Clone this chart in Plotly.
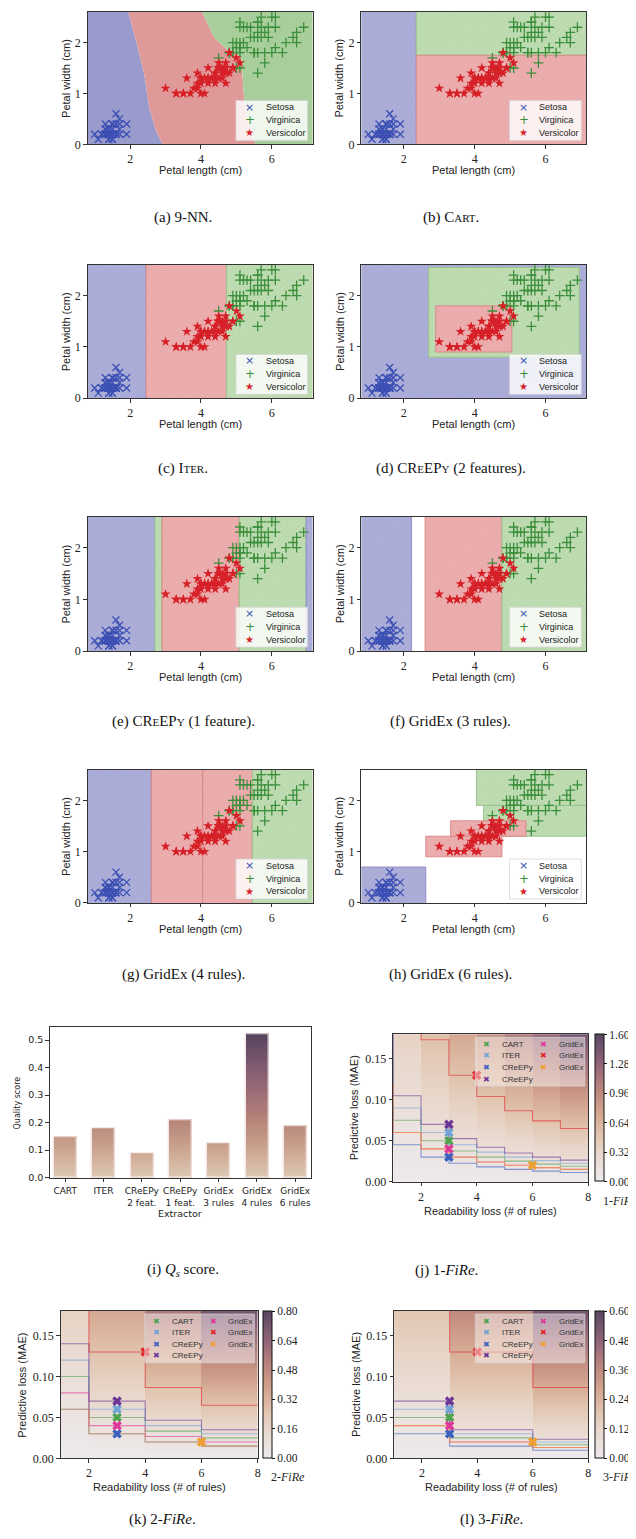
import numpy as np
import plotly.graph_objects as go

W, H = 636, 1539

# ---------------- Iris data (petal length / width, cm) ----------------
setosa_len = [1.4,1.4,1.3,1.5,1.4,1.7,1.4,1.5,1.4,1.5,1.5,1.6,1.4,1.1,1.2,1.5,1.3,1.4,1.7,1.5,
              1.7,1.5,1.0,1.7,1.9,1.6,1.6,1.5,1.4,1.6,1.6,1.5,1.5,1.4,1.5,1.2,1.3,1.4,1.3,1.5,
              1.3,1.3,1.3,1.6,1.9,1.4,1.6,1.4,1.5,1.4]
setosa_wid = [0.2,0.2,0.2,0.2,0.2,0.4,0.3,0.2,0.2,0.1,0.2,0.2,0.1,0.1,0.2,0.4,0.4,0.3,0.3,0.3,
              0.2,0.4,0.2,0.5,0.2,0.2,0.4,0.2,0.2,0.2,0.2,0.4,0.1,0.2,0.2,0.2,0.2,0.1,0.2,0.2,
              0.3,0.3,0.2,0.6,0.4,0.3,0.2,0.2,0.2,0.2]
versicolor_len = [4.7,4.5,4.9,4.0,4.6,4.5,4.7,3.3,4.6,3.9,3.5,4.2,4.0,4.7,3.6,4.4,4.5,4.1,4.5,3.9,
                  4.8,4.0,4.9,4.7,4.3,4.4,4.8,5.0,4.5,3.5,3.8,3.7,3.9,5.1,4.5,4.5,4.7,4.4,4.1,4.0,
                  4.4,4.6,4.0,3.3,4.2,4.2,4.2,4.3,3.0,4.1]
versicolor_wid = [1.4,1.5,1.5,1.3,1.5,1.3,1.6,1.0,1.3,1.4,1.0,1.5,1.0,1.4,1.3,1.4,1.5,1.0,1.5,1.1,
                  1.8,1.3,1.5,1.2,1.3,1.4,1.4,1.7,1.5,1.0,1.1,1.0,1.2,1.6,1.5,1.6,1.5,1.3,1.3,1.3,
                  1.2,1.4,1.2,1.0,1.3,1.2,1.3,1.3,1.1,1.3]
virginica_len = [6.0,5.1,5.9,5.6,5.8,6.6,4.5,6.3,5.8,6.1,5.1,5.3,5.5,5.0,5.1,5.3,5.5,6.7,6.9,5.0,
                 5.7,4.9,6.7,4.9,5.7,6.0,4.8,4.9,5.6,5.8,6.1,6.4,5.6,5.1,5.6,6.1,5.6,5.5,4.8,5.4,
                 5.6,5.1,5.1,5.9,5.7,5.2,5.0,5.2,5.4,5.1]
virginica_wid = [2.5,1.9,2.1,1.8,2.2,2.1,1.7,1.8,1.8,2.5,2.0,1.9,2.1,2.0,2.4,2.3,1.8,2.2,2.3,1.5,
                 2.3,2.0,2.0,1.8,2.1,1.8,1.8,1.8,2.1,1.6,1.9,2.0,2.2,1.5,1.4,2.3,2.4,1.8,1.8,2.1,
                 2.4,2.3,1.9,2.3,2.5,2.3,1.9,2.0,2.3,1.8]
iris_classes = ["Setosa", "Virginica", "Versicolor"]

# ---------------- decision regions ----------------
knn_blue_red_x = [1.95, 2.17, 2.40, 2.54, 2.73, 2.92]
knn_blue_red_y = [2.6, 2.03, 1.37, 0.72, 0.27, 0.0]
knn_red_green_x = [4.03, 4.38, 4.75, 5.13, 5.17, 5.24, 5.41, 5.55]
knn_red_green_y = [2.6, 2.09, 1.86, 1.71, 1.37, 0.72, 0.20, 0.0]

cart_rects = [("setosa", 0.5, 2.35, -0.1, 2.7), ("virginica", 2.35, 7.5, 1.75, 2.7),
              ("versicolor", 2.35, 7.5, -0.1, 1.75)]
iter_rects = [("setosa", 0.5, 2.45, -0.1, 2.7), ("versicolor", 2.45, 4.72, -0.1, 2.7),
              ("virginica", 4.72, 7.5, -0.1, 2.7)]
creepy2_rects = [("setosa", 0.5, 7.5, -0.1, 2.7), ("virginica", 2.7, 6.95, 0.8, 2.55),
                 ("versicolor", 2.9, 5.05, 0.9, 1.8)]
creepy1_rects = [("setosa", 0.5, 2.7, -0.1, 2.7), ("virginica", 2.7, 2.9, -0.1, 2.7),
                 ("versicolor", 2.9, 5.08, -0.1, 2.7), ("virginica", 5.08, 6.97, -0.1, 2.7),
                 ("setosa", 6.97, 7.5, -0.1, 2.7)]
gridex3_rects = [("setosa", 0.5, 2.22, -0.1, 2.7), ("versicolor", 2.6, 4.77, -0.1, 2.7),
                 ("virginica", 4.77, 7.5, -0.1, 2.7)]
gridex4_rects = [("setosa", 0.5, 2.6, -0.1, 2.7), ("versicolor", 2.6, 4.05, -0.1, 2.7),
                 ("versicolor", 4.05, 5.45, -0.1, 2.7), ("virginica", 5.45, 7.5, -0.1, 2.7)]
gridex6_rects = [("virginica", 4.05, 7.5, 1.9, 2.7), ("virginica", 4.25, 7.5, 1.3, 1.9),
                 ("versicolor", 2.62, 4.77, 0.9, 1.3), ("versicolor", 3.32, 5.45, 1.3, 1.6),
                 ("setosa", 0.5, 2.62, -0.1, 0.7)]

iris_xticks = [2, 4, 6]
iris_yticks = [0, 1, 2]

# ---------------- quality score bars ----------------
extractors = ["CART", "ITER", "CReEPy<br>2 feat.", "CReEPy<br>1 feat.",
              "GridEx<br>3 rules", "GridEx<br>4 rules", "GridEx<br>6 rules"]
quality = [0.148, 0.178, 0.087, 0.210, 0.124, 0.521, 0.188]
quality_ticks = [0.0, 0.1, 0.2, 0.3, 0.4, 0.5]

# ---------------- FiRe panels ----------------
fire_names = ["CART", "ITER", "CReEPy", "CReEPy", "GridEx", "GridEx", "GridEx"]
fire_rules = [3, 3, 3, 3, 3, 4, 6]
fire_loss = [0.05, 0.06, 0.03, 0.07, 0.04, 0.13, 0.02]
fire_k = [1, 2, 3]
fire_cmax = [1.60, 0.80, 0.60]
fire_xticks = [2, 4, 6, 8]
fire_yticks = [0.0, 0.05, 0.10, 0.15]

# ---------------- styles ----------------
SERIF = "Liberation Serif"
SANS = "Liberation Sans"
fire_colors = ["#4fa24f", "#6fa3d6", "#3a5fc0", "#6a3596", "#e0369a", "#e2242a", "#f0a030"]
REGION_SOLID = {"setosa": "#9a9bcd", "versicolor": "#e09999", "virginica": "#a8cf9b"}
REGION_FILL = {"setosa": "#acaed8", "versicolor": "#ebadad", "virginica": "#bedbb2"}
REGION_HATCH = {"setosa": "#9a9dcd", "versicolor": "#de9c9c", "virginica": "#abcf9f"}
REGION_EDGE = {"setosa": "#8c86c4", "versicolor": "#d98585", "virginica": "#93c285"}
PT_COL = {"Setosa": "#3c50b4", "Virginica": "#3b8f3b", "Versicolor": "#d62027"}
BG_CS = [[0.0, "#ede9ed"], [0.1, "#ebe1dc"], [0.2, "#e8d6ca"], [0.3, "#e2c7b3"],
         [0.4, "#dab39c"], [0.5, "#cf9e8a"], [0.6, "#bf8a80"], [0.7, "#a9767b"],
         [0.8, "#906478"], [0.9, "#74556e"], [1.0, "#58475f"]]
BAR_CS = [[0.0, "#ddc9b5"], [0.2, "#cca48e"], [0.4, "#b6847a"], [0.6, "#9c6c76"],
          [0.8, "#7c5870"], [1.0, "#54455c"]]


def xd(a, b):
    return [a / W, b / W]


def yd(t, b):
    return [1 - b / H, 1 - t / H]


def px(x):
    return x / W


def py(y):
    return 1 - y / H


fig = go.Figure()
layout = {}
annotations = []
shapes = []


def ann(x, y, text, size=11, family=SANS, color="#222", xanchor="center", yanchor="middle", angle=0):
    annotations.append(dict(x=px(x), y=py(y), xref="paper", yref="paper", text=text, showarrow=False,
                            font=dict(family=family, size=size, color=color), xanchor=xanchor,
                            yanchor=yanchor, textangle=angle))


def axis_common(domain, anchor, rng, tickvals, ticktext=None, font=None):
    d = dict(domain=domain, anchor=anchor, range=rng, tickmode="array", tickvals=tickvals,
             ticks="outside", ticklen=3.5, tickwidth=1, tickcolor="#333", showline=True,
             linewidth=1, linecolor="#333", mirror=True, showgrid=False, zeroline=False,
             tickangle=0, tickfont=font or dict(family=SERIF, size=12, color="#222"))
    if ticktext is not None:
        d["ticktext"] = ticktext
    return d


# ================= iris panels =================
iris_regions = [None, cart_rects, iter_rects, creepy2_rects, creepy1_rects,
                gridex3_rects, gridex4_rects, gridex6_rects]
IRIS_COLS = [(80, 306), (355, 581)]
IRIS_ROWS = [(4, 137), (258, 392), (511, 646), (765, 899)]
XR = [0.8, 7.15]
YR = [0, 2.6]

for i in range(8):
    n = i + 1
    xa = "x" if n == 1 else f"x{n}"
    ya = "y" if n == 1 else f"y{n}"
    l, r = IRIS_COLS[i % 2]
    t, b = IRIS_ROWS[i // 2]
    layout["xaxis" if n == 1 else f"xaxis{n}"] = axis_common(xd(l, r), ya, XR, iris_xticks)
    layout["yaxis" if n == 1 else f"yaxis{n}"] = axis_common(yd(t, b), xa, YR, iris_yticks)

    if i == 0:
        polys = [
            ("setosa", [0.5, 0.5] + knn_blue_red_x, [0.0, 2.6] + knn_blue_red_y),
            ("versicolor", knn_blue_red_x + knn_red_green_x[::-1], knn_blue_red_y + knn_red_green_y[::-1]),
            ("virginica", knn_red_green_x + [7.5, 7.5], knn_red_green_y + [0.0, 2.6]),
        ]
        for cls, xs, ys in polys:
            fig.add_trace(go.Scatter(x=xs, y=ys, fill="toself", mode="lines", line=dict(width=0),
                                     fillcolor=REGION_SOLID[cls], hoverinfo="skip", xaxis=xa, yaxis=ya))
    else:
        for cls, x0, x1, y0, y1 in iris_regions[i]:
            fig.add_trace(go.Scatter(
                x=[x0, x1, x1, x0, x0], y=[y0, y0, y1, y1, y0], fill="toself", mode="lines",
                line=dict(width=0.9, color=REGION_EDGE[cls]), fillcolor=REGION_FILL[cls],
                fillpattern=dict(shape="/", size=4, solidity=0.2, bgcolor=REGION_FILL[cls],
                                 fgcolor=REGION_HATCH[cls]),
                hoverinfo="skip", xaxis=xa, yaxis=ya))

    fig.add_trace(go.Scatter(x=setosa_len, y=setosa_wid, mode="markers", xaxis=xa, yaxis=ya,
                             marker=dict(symbol="x-thin-open", size=7, color=PT_COL["Setosa"],
                                         line=dict(width=1.3, color=PT_COL["Setosa"]))))
    fig.add_trace(go.Scatter(x=virginica_len, y=virginica_wid, mode="markers", xaxis=xa, yaxis=ya,
                             marker=dict(symbol="cross-thin-open", size=7, color=PT_COL["Virginica"],
                                         line=dict(width=1.3, color=PT_COL["Virginica"]))))
    fig.add_trace(go.Scatter(x=versicolor_len, y=versicolor_wid, mode="markers", xaxis=xa, yaxis=ya,
                             marker=dict(symbol="star", size=7.5, color=PT_COL["Versicolor"], line=dict(width=0))))

    # axis titles
    ann((l + r) / 2, b + 26, "Petal length (cm)")
    ann(l - 22, (t + b) / 2, "Petal width (cm)", angle=-90)

    # legend box
    bx1 = r - 5
    by1 = b - 4
    bx0 = bx1 - 72
    by0 = by1 - 40
    shapes.append(dict(type="rect", xref="paper", yref="paper", x0=px(bx0), x1=px(bx1), y0=py(by1), y1=py(by0),
                       fillcolor="rgba(255,255,255,0.82)", line=dict(color="#d6d6d6", width=0.8), layer="above"))
    syms = ["×", "+", "★"]
    sym_sizes = [11, 12, 10]
    for k, cname in enumerate(iris_classes):
        yy = by0 + 6.5 + 13 * k
        ann(bx0 + 14, yy, syms[k], size=sym_sizes[k], family="DejaVu Sans", color=PT_COL[cname])
        ann(bx0 + 28, yy, cname, size=9, xanchor="left")

# ================= bar panel (i) =================
BL, BR, BT, BB = 42, 304, 1024, 1175
layout["xaxis9"] = axis_common(xd(BL, BR), "y9", [-0.4, 6.4], list(range(len(extractors))), extractors,
                               font=dict(family="DejaVu Sans", size=9, color="#222"))
layout["yaxis9"] = axis_common(yd(BT, BB), "x9", [0, 0.546], quality_ticks,
                               [f"{v:.1f}" for v in quality_ticks],
                               font=dict(family="DejaVu Sans", size=9.5, color="#222"))
layout["xaxis9"]["ticklabelstandoff"] = 1
seg = 0.004
qmax = max(quality)
for j, v in enumerate(quality):
    nseg = int(np.ceil(v / seg))
    bases = np.arange(nseg) * seg
    hts = np.minimum(seg * 1.7, v - bases)
    mids = bases + np.minimum(seg, v - bases) / 2
    fig.add_trace(go.Bar(x=[j] * nseg, y=hts, base=bases, width=0.6, xaxis="x9", yaxis="y9",
                         marker=dict(color=mids, colorscale=BAR_CS, cmin=0, cmax=qmax, showscale=False,
                                     line=dict(width=0)), hoverinfo="skip"))
fig.add_trace(go.Bar(x=list(range(len(quality))), y=quality, width=0.6, xaxis="x9", yaxis="y9",
                     marker=dict(color="rgba(0,0,0,0)", line=dict(color="#f3e2e2", width=1.2)),
                     hoverinfo="skip"))
ann(10, (BT + BB) / 2, "Quality score", size=8, family="DejaVu Sans", angle=-90)
ann((BL + BR) / 2, 1211, "Extractor", size=9.5, family="DejaVu Sans")

# ================= FiRe panels (j, k, l) =================
FIRE_BOX = [(387, 583, 1031, 1179), (53, 251, 1309, 1457), (388, 583, 1309, 1457)]
CB_X = [595, 261, 595]
ygrid = np.linspace(0, 0.18, 91)
legend_pos = [(0, 0), (0, 1), (0, 2), (0, 3), (1, 0), (1, 1), (1, 2)]

for p in range(3):
    n = 10 + p
    xa, ya = f"x{n}", f"y{n}"
    l, r, t, b = FIRE_BOX[p]
    k = fire_k[p]
    cmax = fire_cmax[p]
    layout[f"xaxis{n}"] = axis_common(xd(l, r), ya, [1, 8], fire_xticks)
    layout[f"yaxis{n}"] = axis_common(yd(t, b), xa, [0, 0.18], fire_yticks,
                                      [f"{v:.2f}" for v in fire_yticks])
    edges = np.arange(0, 8 + k, k)
    centers = (edges[:-1] + edges[1:]) / 2
    mult = np.ceil(centers / k)
    z = np.outer(ygrid, mult)
    cticks = [cmax * q / 5 for q in range(6)]
    fig.add_trace(go.Heatmap(
        x=centers, y=ygrid, z=z, colorscale=BG_CS, zmin=0, zmax=cmax, xaxis=xa, yaxis=ya,
        hoverinfo="skip",
        colorbar=dict(x=px(CB_X[p] - 5), xanchor="left", y=py((t + b) / 2), yanchor="middle",
                      len=(b - t) / H, lenmode="fraction", thickness=9, thicknessmode="pixels",
                      xpad=0, ypad=0, outlinewidth=1, outlinecolor="#111", ticks="outside",
                      ticklen=3, tickwidth=1, tickcolor="#111", tickmode="array", tickvals=cticks,
                      ticktext=[f"{v:.2f}" for v in cticks],
                      tickfont=dict(family=SERIF, size=11.5, color="#222"))))
    # iso-lines through each extractor
    for m in range(len(fire_loss)):
        score = fire_loss[m] * np.ceil(fire_rules[m] / k)
        xs, ys = [], []
        for e0, e1, mu in zip(edges[:-1], edges[1:], mult):
            xs += [e0, e1]
            ys += [score / mu, score / mu]
        c = fire_colors[m]
        rgba = "rgba(%d,%d,%d,0.6)" % (int(c[1:3], 16), int(c[3:5], 16), int(c[5:7], 16))
        fig.add_trace(go.Scatter(x=xs, y=ys, mode="lines", line=dict(color=rgba, width=1.1),
                                 xaxis=xa, yaxis=ya, hoverinfo="skip"))
    for m in range(len(fire_loss)):
        fig.add_trace(go.Scatter(x=[fire_rules[m]], y=[fire_loss[m]], mode="markers", xaxis=xa, yaxis=ya,
                                 marker=dict(symbol="x", size=8.5, color=fire_colors[m], line=dict(width=0))))
    # axis titles
    ann((l + r) / 2, b + 29, "Readability loss (# of rules)")
    ann(l - 39, (t + b) / 2, "Predictive loss (MAE)", angle=-90)
    ann(CB_X[p] + 1, b + 19, f"{k}-<i>FiRe</i>", size=12, family=SERIF, xanchor="left")
    # legend box
    bx1 = r - 3.5
    by0 = t + 3
    bx0 = bx1 - 110
    by1 = by0 + 49
    shapes.append(dict(type="rect", xref="paper", yref="paper", x0=px(bx0), x1=px(bx1), y0=py(by1), y1=py(by0),
                       fillcolor="rgba(255,255,255,0.45)", line=dict(color="rgba(215,215,215,0.9)", width=0.8),
                       layer="above"))
    for m, (col, row) in enumerate(legend_pos):
        yy = by0 + 7 + 11.7 * row
        sx = bx0 + (11.5 if col == 0 else 68.5)
        ann(sx, yy, "✖", size=8, family="DejaVu Sans", color=fire_colors[m])
        ann(sx + 13.5, yy, fire_names[m], size=8, xanchor="left", color="#333")

# ================= captions =================
SC = "<span style='font-size:11px'>"
captions = [
    (176, 210, "(a) 9-NN."),
    (445, 210, f"(b) C{SC}ART</span>."),
    (176, 463, f"(c) I{SC}TER</span>."),
    (445, 463, f"(d) CR{SC}E</span>EP{SC}Y</span> (2 features)."),
    (176, 717, f"(e) CR{SC}E</span>EP{SC}Y</span> (1 feature)."),
    (445, 717, "(f) GridEx (3 rules)."),
    (176, 971, "(g) GridEx (4 rules)."),
    (445, 971, "(h) GridEx (6 rules)."),
    (176, 1268, "(i) <i>Q</i><sub><i>s</i></sub> score."),
    (441, 1268, "(j) 1-<i>FiRe</i>."),
    (155, 1518, "(k) 2-<i>FiRe</i>."),
    (486, 1518, "(l) 3-<i>FiRe</i>."),
]
for x, y, txt in captions:
    ann(x, y, txt, size=15, family=SERIF, color="#111")

fig.update_layout(**layout)
fig.update_layout(width=W, height=H, margin=dict(l=0, r=0, t=0, b=0), paper_bgcolor="white",
                  plot_bgcolor="white", showlegend=False, barmode="overlay", bargap=0,
                  annotations=annotations, shapes=shapes)
fig.write_html("out.html")
